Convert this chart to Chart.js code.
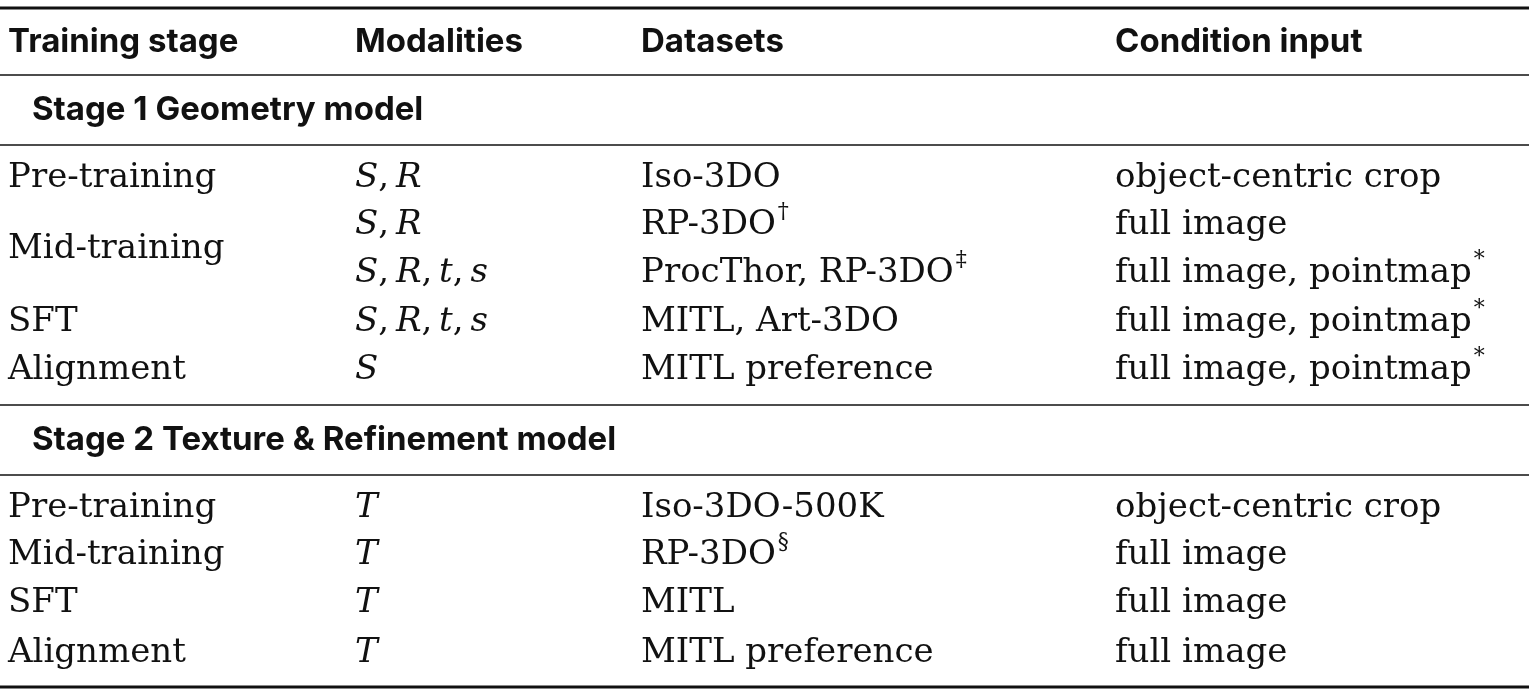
<!DOCTYPE html>
<html><head><meta charset="utf-8">
<script src="https://cdn.jsdelivr.net/npm/chart.js@4"></script>
<style>html,body{margin:0;padding:0;background:#fff}#wrap{width:1529px;height:695px}</style>
</head><body><div id="wrap"><canvas id="c"></canvas></div>
<script>
const headers = ["Training stage","Modalities","Datasets","Condition input"];
const stageLabels = ["Stage 1 Geometry model","Stage 2 Texture & Refinement model"];
const stage1Names = ["Pre-training","Mid-training","SFT","Alignment"];
const stage1Spans = [1,2,1,1];
const stage1Modalities = ["S, R","S, R","S, R, t, s","S, R, t, s","S"];
const stage1Datasets = ["Iso-3DO","RP-3DO^†","ProcThor, RP-3DO^‡","MITL, Art-3DO","MITL preference"];
const stage1Conditions = ["object-centric crop","full image","full image, pointmap^*","full image, pointmap^*","full image, pointmap^*"];
const stage2Names = ["Pre-training","Mid-training","SFT","Alignment"];
const stage2Spans = [1,1,1,1];
const stage2Modalities = ["T","T","T","T"];
const stage2Datasets = ["Iso-3DO-500K","RP-3DO^§","MITL","MITL preference"];
const stage2Conditions = ["object-centric crop","full image","full image","full image"];

const colX = [8,355,641,1115];
const headerY = 42, stageY = [110,440];
const rows1Y = [178,225,273,322,370], rows2Y = [508,555,603,653];
const rules = [{y:8,w:3},{y:75,w:1.5},{y:145,w:1.5},{y:405,w:1.5},{y:475,w:1.5},{y:687,w:3}];

const SANS = '"Inter","Open Sans",sans-serif';
const SERIF = '"DejaVu Serif","Liberation Serif",serif';

function drawRich(ctx, txt, x, y, size){
  const [main, sup] = txt.split('^');
  ctx.font = '300 '+size+'px '+SERIF;
  ctx.fillText(main, x, y);
  if (sup){
    const w = ctx.measureText(main).width;
    ctx.font = Math.round(size*0.65)+'px '+SERIF;
    ctx.fillText(sup, x+w+2, y-size*0.36);
  }
}
function drawMath(ctx, txt, x, y, size){
  let cx = x;
  for (const ch of txt){
    ctx.font = (/[A-Za-z]/.test(ch)?'italic ':'')+size+'px '+SERIF;
    ctx.fillText(ch, cx, y);
    cx += ctx.measureText(ch).width - (ch===' '?4:0);
  }
}

const tablePlugin = {
  id:'table',
  afterDraw(chart){
    const ctx = chart.ctx, xs = chart.scales.x, ys = chart.scales.y;
    const X = v=>xs.getPixelForValue(v), Y = v=>ys.getPixelForValue(v);
    ctx.save();
    ctx.fillStyle='#111'; ctx.strokeStyle='#111';
    ctx.textBaseline='middle'; ctx.textAlign='left';
    rules.forEach(r=>{ctx.lineWidth=r.w;ctx.beginPath();ctx.moveTo(X(0),Y(r.y));ctx.lineTo(X(1529),Y(r.y));ctx.stroke();});
    ctx.font='700 33px '+SANS;
    headers.forEach((h,i)=>ctx.fillText(h, X(colX[i]), Y(headerY)));
    stageLabels.forEach((s,i)=>ctx.fillText(s, X(colX[0]+24), Y(stageY[i])));
    const S = 34;
    const block=(names,spans,mods,dss,conds,ys_)=>{
      let r=0;
      names.forEach((n,i)=>{
        const yc = ys_.slice(r,r+spans[i]).reduce((a,b)=>a+b,0)/spans[i];
        drawRich(ctx,n,X(colX[0]),Y(yc),S); r+=spans[i];
      });
      mods.forEach((m,i)=>drawMath(ctx,m,X(colX[1]),Y(ys_[i]),S));
      dss.forEach((d,i)=>drawRich(ctx,d,X(colX[2]),Y(ys_[i]),S));
      conds.forEach((c,i)=>drawRich(ctx,c,X(colX[3]),Y(ys_[i]),S));
    };
    block(stage1Names,stage1Spans,stage1Modalities,stage1Datasets,stage1Conditions,rows1Y);
    block(stage2Names,stage2Spans,stage2Modalities,stage2Datasets,stage2Conditions,rows2Y);
    ctx.restore();
  }
};

new Chart(document.getElementById('c'),{
  type:'scatter',
  data:{datasets:[{data:[]}]},
  options:{responsive:true,maintainAspectRatio:false,animation:false,
    layout:{padding:0},
    plugins:{legend:{display:false},tooltip:{enabled:false}},
    scales:{x:{type:'linear',min:0,max:1529,display:false},
            y:{type:'linear',min:0,max:695,reverse:true,display:false}}},
  plugins:[tablePlugin]
});
</script></body></html>
